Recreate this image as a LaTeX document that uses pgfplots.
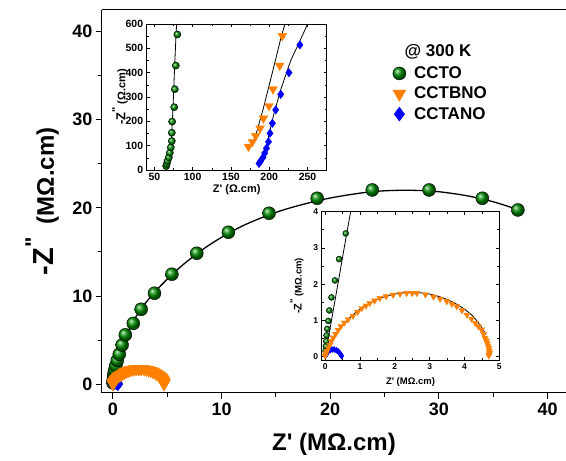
\documentclass[border=0pt]{standalone}
\usepackage{fontspec}
\setmainfont{Liberation Sans}[Ligatures=TeXOff]
\usepackage{pgfplots}
\pgfplotsset{compat=1.18}
\definecolor{cgreen}{RGB}{0,140,0}
\definecolor{corange}{RGB}{255,128,0}
\definecolor{cblue}{RGB}{0,0,255}
\pgfplotsset{
  gstyle/.style={only marks, mark=ball, mark options={ball color=cgreen}},
  ostyle/.style={only marks, color=corange, mark=triangle*, mark options={rotate=180, fill=corange, draw=corange}},
  bstyle/.style={only marks, color=cblue, mark=diamond*, mark options={fill=cblue, draw=cblue}},
  fitstyle/.style={black, line width=1.3pt, no marks, smooth},
}
\begin{document}
\begin{tikzpicture}[x=1pt,y=1pt]
\useasboundingbox (0,0) rectangle (566,461);
% ---------------- main axis ----------------
\begin{axis}[
  at={(102pt,68pt)}, anchor=south west,
  width=464pt, height=383pt, scale only axis,
  xmin=-1, xmax=41.7, ymin=-1, ymax=42.46,
  axis x line=box, axis y line=left,
  axis line style={-, line width=1pt},
  xtick={0,10,20,30,40}, minor xtick={5,15,25,35},
  ytick={0,10,20,30,40}, minor ytick={5,15,25,35},
  xtick pos=left,
  tick align=outside, major tick length=6pt, minor tick length=4pt,
  tick style={line width=1pt, black},
  /pgf/number format/assume math mode=true,
  tick label style={font=\fontsize{18}{18}\selectfont\bfseries},
  xlabel={Z' (MΩ.cm)},
  ylabel={{\fontsize{29}{29}\selectfont\bfseries -Z}\raisebox{0.55em}{\fontsize{22}{22}\selectfont\bfseries "}\ \ (MΩ.cm)},
  every axis x label/.style={at={(axis description cs:0.5,-0.133)}, anchor=center, font=\fontsize{24}{24}\selectfont\bfseries},
  every axis y label/.style={at={(axis description cs:-0.129,0.5)}, rotate=90, anchor=center, font=\fontsize{24}{24}\selectfont\bfseries},
  legend image code/.code={\draw[mark repeat=2,mark phase=2,#1] plot coordinates {(0pt,0pt)(9pt,0pt)(18pt,0pt)};},
  legend style={at={(axis description cs:0.626,0.855)}, anchor=north west, draw=none, fill=none,
    font=\fontsize{17}{17}\selectfont\bfseries, row sep=5pt, column sep=7pt, inner sep=0pt,
    nodes={inner sep=1pt}},
  legend cell align=left,
  clip=false,
]
\addplot[gstyle, mark size=6.5pt, forget plot] coordinates {
(0.01,0.15)(0.03,0.42)(0.06,0.76)(0.09,0.98)(0.12,1.27)(0.18,1.63)(0.28,2.10)(0.40,2.69)(0.59,3.40)
(0.85,4.45)(1.15,5.60)(1.88,6.90)(2.60,8.50)(3.83,10.32)(5.43,12.48)(7.72,14.86)(10.63,17.24)
(14.37,19.40)(18.80,21.10)(23.87,22.04)(29.10,22.04)(34.00,21.10)(37.27,19.77)};
\addplot[bstyle, mark size=6.5pt, forget plot] coordinates {
(0.02,0.03)(0.05,0.09)(0.09,0.14)(0.14,0.17)(0.20,0.19)(0.26,0.19)(0.32,0.17)(0.37,0.14)(0.41,0.10)(0.44,0.06)(0.46,0.03)(0.47,0.01)};
\addplot[ostyle, mark size=7pt, forget plot] coordinates {
(0.00,0.02)(0.02,0.08)(0.05,0.15)(0.09,0.24)(0.13,0.32)(0.18,0.42)(0.23,0.52)(0.30,0.62)(0.37,0.73)(0.45,0.83)
(0.55,0.93)(0.66,1.02)(0.80,1.12)(0.93,1.23)(1.05,1.33)(1.17,1.40)(1.28,1.47)(1.42,1.54)(1.57,1.61)(1.75,1.66)
(1.95,1.70)(2.15,1.73)(2.34,1.75)(2.50,1.75)(2.63,1.75)(2.88,1.71)(3.11,1.65)(3.30,1.59)(3.49,1.52)(3.64,1.45)
(3.78,1.38)(3.93,1.27)(4.07,1.15)(4.20,1.04)(4.31,0.92)(4.40,0.83)(4.49,0.74)(4.55,0.62)(4.59,0.51)(4.63,0.44)
(4.65,0.37)(4.68,0.30)(4.70,0.23)(4.71,0.16)(4.72,0.10)(4.71,0.05)(4.70,0.02)};
\addplot[fitstyle, forget plot] coordinates {
(0,0)(0.2,1.1)(0.42,2.3)(0.75,4.0)(1.2,5.4)(2.0,7.4)(3.0,9.2)(4.5,11.3)(6.5,13.6)(9.0,15.9)(12.0,18.0)
(15.5,19.7)(19.5,21.0)(23.5,21.8)(26.5,22.0)(29.5,21.9)(32.5,21.4)(35.0,20.7)(37.3,19.8)};
\addplot[fitstyle, forget plot] coordinates {
(0,0)(0.10,0.25)(0.205,0.445)(0.47,0.823)(0.797,1.15)(1.175,1.415)(1.594,1.61)(2.04,1.73)(2.5,1.77)
(2.96,1.73)(3.406,1.61)(3.825,1.415)(4.203,1.15)(4.45,0.86)(4.62,0.6)};
\addplot[fitstyle, forget plot] coordinates {
(0,0)(0.05,0.1)(0.12,0.16)(0.22,0.19)(0.32,0.17)(0.4,0.11)(0.45,0.05)};
\addlegendimage{gstyle, mark size=6.5pt}
\addlegendentry{CCTO}
\addlegendimage{ostyle, mark size=7.5pt}
\addlegendentry{CCTBNO}
\addlegendimage{bstyle, mark size=7pt}
\addlegendentry{CCTANO}
\end{axis}
\node[font=\fontsize{17}{17}\selectfont\bfseries] at (438,409) {@ 300 K};
% ---------------- inset 1 (top left) ----------------
\begin{axis}[
  at={(146.7pt,291pt)}, anchor=south west,
  width=180pt, height=146pt, scale only axis,
  xmin=40, xmax=275, ymin=0, ymax=600,
  axis background/.style={fill=white},
  axis line style={line width=0.8pt},
  xtick={50,100,150,200,250}, ytick={0,100,200,300,400,500,600},
  minor tick num=1,
  tick align=inside, major tick length=3pt, minor tick length=2pt,
  tick style={line width=0.6pt, black},
  /pgf/number format/assume math mode=true,
  tick label style={font=\fontsize{10.5}{10.5}\selectfont\bfseries},
  xlabel={Z' (Ω.cm)},
  ylabel={{\fontsize{13}{13}\selectfont\bfseries -Z}\raisebox{0.5em}{"}\ (Ω.cm)},
  every axis x label/.style={at={(axis description cs:0.5,-0.137)}, anchor=center, font=\fontsize{11}{11}\selectfont\bfseries},
  every axis y label/.style={at={(axis description cs:-0.148,0.5)}, rotate=90, anchor=center, font=\fontsize{11}{11}\selectfont\bfseries},
]
\addplot[gstyle, mark size=3.6pt] coordinates {
(65.4,16)(66.3,25)(67.2,37)(68.9,52)(70.2,71)(71.5,93)(72.8,119)(72.8,153)(73.2,199)(75.9,258)(76.7,332)(78,429)(80,557)};
\addplot[ostyle, mark size=5pt] coordinates {
(172.8,96)(178,116)(182.3,140)(188,171)(192.4,212)(199.7,263)(204.9,332)(213.6,429)(217.1,551)};
\addplot[bstyle, mark size=4.2pt] coordinates {
(186.6,27)(188.9,37)(191.9,52)(194,69)(196.3,89)(199,116)(201,151)(204.1,192)(208.4,247)(215,311)(225.7,400)(240,514)};
\addplot[black, line width=0.8pt, no marks, smooth] coordinates {
(66,50)(71,100)(73.5,200)(75.5,350)(77.5,500)(79,600)};
\addplot[black, line width=0.8pt, no marks] coordinates {
(177,99)(183,150)(192,250)(200,350)(208,450)(215,540)(220.5,600)};
\addplot[black, line width=0.8pt, no marks] coordinates {
(188,25)(195,80)(200,150)(206,230)(215,330)(228,450)(240,530)(250,600)};
\end{axis}
% ---------------- inset 2 (lower right) ----------------
\begin{axis}[
  at={(321.7pt,101pt)}, anchor=south west,
  width=177.6pt, height=148.3pt, scale only axis,
  xmin=-0.1, xmax=5, ymin=-0.1, ymax=4,
  axis background/.style={fill=white},
  axis line style={line width=0.8pt},
  xtick={0,1,2,3,4,5}, ytick={0,1,2,3,4},
  minor tick num=1,
  tick align=inside, major tick length=3pt, minor tick length=2pt,
  tick style={line width=0.6pt, black},
  /pgf/number format/assume math mode=true,
  tick label style={font=\fontsize{8.5}{8.5}\selectfont\bfseries},
  xlabel={Z' (MΩ.cm)},
  ylabel={{\fontsize{11}{11}\selectfont\bfseries -Z}\raisebox{0.5em}{"}\ (MΩ.cm)},
  every axis x label/.style={at={(axis description cs:0.5,-0.146)}, anchor=center, font=\fontsize{9.5}{9.5}\selectfont\bfseries},
  every axis y label/.style={at={(axis description cs:-0.139,0.5)}, rotate=90, anchor=center, font=\fontsize{9.5}{9.5}\selectfont\bfseries},
]
\addplot[gstyle, mark size=3pt] coordinates {
(0.01,0.15)(0.02,0.28)(0.03,0.42)(0.04,0.58)(0.06,0.76)(0.09,0.98)(0.12,1.27)(0.18,1.63)(0.28,2.10)(0.40,2.69)(0.59,3.40)};
\addplot[bstyle, mark size=3pt] coordinates {
(0.02,0.03)(0.05,0.09)(0.09,0.14)(0.14,0.17)(0.20,0.19)(0.26,0.19)(0.32,0.17)(0.37,0.14)(0.41,0.10)(0.44,0.06)(0.46,0.03)(0.47,0.01)};
\addplot[ostyle, mark size=3.5pt] coordinates {
(0.00,0.02)(0.02,0.08)(0.05,0.15)(0.09,0.24)(0.13,0.32)(0.18,0.42)(0.23,0.52)(0.30,0.62)(0.37,0.73)(0.45,0.83)
(0.55,0.93)(0.66,1.02)(0.80,1.12)(0.93,1.23)(1.05,1.33)(1.17,1.40)(1.28,1.47)(1.42,1.54)(1.57,1.61)(1.75,1.66)
(1.95,1.70)(2.15,1.73)(2.34,1.75)(2.50,1.75)(2.63,1.75)(2.88,1.71)(3.11,1.65)(3.30,1.59)(3.49,1.52)(3.64,1.45)
(3.78,1.38)(3.93,1.27)(4.07,1.15)(4.20,1.04)(4.31,0.92)(4.40,0.83)(4.49,0.74)(4.55,0.62)(4.59,0.51)(4.63,0.44)
(4.65,0.37)(4.68,0.30)(4.70,0.23)(4.71,0.16)(4.72,0.10)(4.71,0.05)(4.70,0.02)};
\addplot[black, line width=0.8pt, no marks] coordinates {
(0,0)(0.2,1.1)(0.42,2.3)(0.6,3.3)(0.75,4.1)};
\addplot[black, line width=0.8pt, no marks, smooth] coordinates {
(0,0)(0.10,0.25)(0.205,0.445)(0.47,0.823)(0.797,1.15)(1.175,1.415)(1.594,1.61)(2.04,1.73)(2.5,1.77)
(2.96,1.73)(3.406,1.61)(3.825,1.415)(4.203,1.15)(4.45,0.86)(4.62,0.6)};
\addplot[black, line width=0.8pt, no marks, smooth] coordinates {
(0,0)(0.05,0.1)(0.12,0.16)(0.22,0.19)(0.32,0.17)(0.4,0.11)(0.45,0.05)};
\end{axis}
\end{tikzpicture}
\end{document}
